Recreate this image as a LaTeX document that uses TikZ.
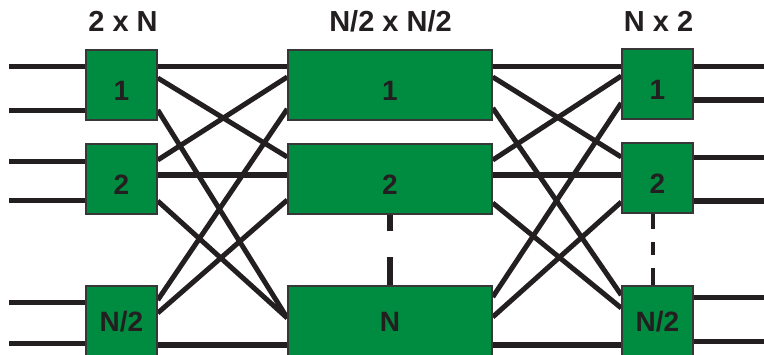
\documentclass[tikz,border=0pt]{standalone}
\usepackage{fontspec}
\setmainfont{Liberation Sans}
\usetikzlibrary{calc}
\definecolor{swgreen}{RGB}{0,140,64}
\definecolor{ink}{RGB}{35,31,32}
\definecolor{boxedge}{RGB}{55,55,55}

\begin{document}
\begin{tikzpicture}[x=1pt,y=-1pt,
  sw/.style={draw=boxedge, line width=1.5pt, fill=swgreen, inner sep=0pt,
    minimum height=70pt, text=ink, font=\bfseries\fontsize{28}{30}\selectfont,
    text depth=0pt},
  small/.style={sw, minimum width=71pt},
  wide/.style={sw, minimum width=204pt},
  hi/.style={text height=30pt},
  lo/.style={text height=20pt},
  wire/.style={draw=ink, line width=5pt},
  heavy/.style={draw=ink, line width=6pt},
  dots/.style={draw=ink, line width=4.5pt},
  title/.style={text=ink, font=\bfseries\fontsize{29}{31}\selectfont,
    anchor=base, inner sep=0pt}]

\useasboundingbox (0,0) rectangle (764,354);
\clip (0,0) rectangle (764,354);

% stage headings
\node[title] (h1) at (123,31)   {2 x N};
\node[title] (h2) at (390.5,31) {N/2 x N/2};
\node[title] (h3) at (658.5,31) {N x 2};

% free ends of the outer lines
\foreach \n/\y in {1/66,2/110,3/161,4/200,5/302,6/343}
  \coordinate (in\n) at (9,\y);
\foreach \n/\y in {1/66,2/100,3/157,4/201,5/297,6/341}
  \coordinate (out\n) at (764,\y);

% switch positions (centres)
\path (121.5,85)  coordinate (cL1) (121.5,179) coordinate (cL2) (121.5,321) coordinate (cL3);
\path (390,85)    coordinate (cM1) (390,179)   coordinate (cM2) (390,321)   coordinate (cM3);
\path (657.5,84)  coordinate (cR1) (657.5,178) coordinate (cR2) (657.5,321) coordinate (cR3);

% invisible placeholders so the wiring can refer to the boxes
\foreach \s in {L,R} \foreach \r in {1,2,3}
  \node[small, draw=none, fill=none] (\s\r) at (c\s\r) {};
\foreach \r in {1,2,3}
  \node[wide, draw=none, fill=none] (M\r) at (cM\r) {};

% inputs
\draw[wire] (in1) -- (L1.west |- in1);
\draw[wire] (in2) -- (L1.west |- in2);
\draw[wire] (in3) -- (L2.west |- in3);
\draw[wire] (in4) -- (L2.west |- in4);
\draw[wire] (in5) -- (L3.west |- in5);
\draw[wire] (in6) -- (L3.west |- in6);

% first stage to middle stage
\draw[wire]  (L1.east |- 0,66)  -- (M1.west |- 0,66);
\draw[wire]  (L1.east |- 0,78)  -- (M2.west |- 0,157);
\draw[wire]  (L1.east |- 0,110) -- (M3.west |- 0,318);
\draw[wire]  (L2.east |- 0,160) -- (M1.west |- 0,77);
\draw[heavy] (L2.east |- 0,175) -- (M2.west |- 0,175);
\draw[wire]  (L2.east |- 0,201) -- (M3.west |- 0,318);
\draw[wire]  (L3.east |- 0,300) -- (M1.west |- 0,109);
\draw[wire]  (L3.east |- 0,313) -- (M2.west |- 0,200);
\draw[heavy] (L3.east |- 0,345) -- (M3.west |- 0,345);

% middle stage to last stage
\draw[wire]  (M1.east |- 0,66)  -- (R1.west |- 0,66);
\draw[wire]  (M1.east |- 0,77)  -- (R2.west |- 0,157);
\draw[wire]  (M1.east |- 0,108) -- (R3.west |- 0,295);
\draw[wire]  (M2.east |- 0,160) -- (R1.west |- 0,76);
\draw[heavy] (M2.east |- 0,175) -- (R2.west |- 0,175);
\draw[wire]  (M2.east |- 0,203) -- (R3.west |- 0,308);
\draw[wire]  (M3.east |- 0,297) -- (R1.west |- 0,103);
\draw[wire]  (M3.east |- 0,317) -- (R2.west |- 0,202);
\draw[heavy] (M3.east |- 0,345) -- (R3.west |- 0,345);

% outputs
\draw[wire]  (R1.east |- out1) -- (out1);
\draw[heavy] (R1.east |- out2) -- (out2);
\draw[wire]  (R2.east |- out3) -- (out3);
\draw[heavy] (R2.east |- out4) -- (out4);
\draw[wire]  (R3.east |- out5) -- (out5);
\draw[wire]  (R3.east |- out6) -- (out6);

% elided switches
\draw[dots, line width=5.5pt, dash pattern=on 28pt off 26pt on 18pt off 10pt]
  (M3.north) -- (M2.south);
\draw[dots, dash pattern=on 15pt off 13pt on 13pt off 13pt on 18pt off 1pt]
  (R2.south -| 653,0) -- (R3.north -| 653,0);

% switches
\node[small, hi] at (cL1) {1};
\node[small, hi] at (cL2) {2};
\node[small, lo] at (cL3) {N/2};
\node[wide, hi]  at (cM1) {1};
\node[wide, hi]  at (cM2) {2};
\node[wide, lo]  at (cM3) {N};
\node[small, hi] at (cR1) {1};
\node[small, hi] at (cR2) {2};
\node[small, lo] at (cR3) {N/2};
\end{tikzpicture}
\end{document}
